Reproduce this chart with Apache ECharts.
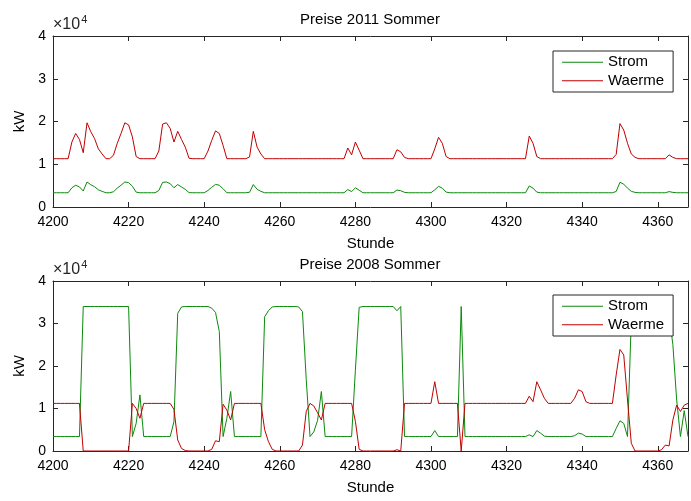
<!DOCTYPE html>
<html>
<head>
<meta charset="utf-8">
<script src="https://cdn.jsdelivr.net/npm/echarts@6/dist/echarts.min.js"></script>
<style>
  html, body { margin: 0; padding: 0; background: #fff; }
  #chart { width: 691px; height: 501px; }
</style>
</head>
<body>
<div id="chart"></div>
<script>
// hours 4200..4368
const startHour = 4200;
const endHour = 4368;
const xTicks = [4200, 4220, 4240, 4260, 4280, 4300, 4320, 4340, 4360];
const yTicks = [0, 1, 2, 3, 4];

// Preise 2011 Sommer (kW)
const strom2011 = [
  3330, 3330, 3330, 3330, 3330, 4500, 5100, 4680, 3750, 5850,
  5220, 4740, 4020, 3660, 3330, 3330, 3570, 4410, 5100, 5850,
  5700, 4860, 3480, 3330, 3330, 3330, 3330, 3330, 3870, 5760,
  5850, 5460, 4500, 5250, 4680, 4140, 3360, 3330, 3330, 3330,
  3330, 3870, 4620, 5280, 5100, 4260, 3330, 3330, 3330, 3330,
  3330, 3330, 3450, 5250, 4140, 3660, 3330, 3330, 3330, 3330,
  3330, 3330, 3330, 3330, 3330, 3330, 3330, 3330, 3330, 3330,
  3330, 3330, 3330, 3330, 3330, 3330, 3330, 3330, 4080, 3600,
  4500, 3930, 3330, 3330, 3330, 3330, 3330, 3330, 3330, 3330,
  3330, 3960, 3810, 3420, 3330, 3330, 3330, 3330, 3330, 3330,
  3330, 4020, 4830, 4410, 3480, 3330, 3330, 3330, 3330, 3330,
  3330, 3330, 3330, 3330, 3330, 3330, 3330, 3330, 3330, 3330,
  3330, 3330, 3330, 3330, 3330, 3330, 4920, 4410, 3480, 3330,
  3330, 3330, 3330, 3330, 3330, 3330, 3330, 3330, 3330, 3330,
  3330, 3330, 3330, 3330, 3330, 3330, 3330, 3330, 3330, 3630,
  5790, 5340, 4410, 3660, 3420, 3330, 3330, 3330, 3330, 3330,
  3330, 3330, 3330, 3600, 3420, 3330, 3330, 3330, 3330
];
const waerme2011 = [
  11300, 11300, 11300, 11300, 11300, 15200, 17200, 15800, 12700, 19700,
  17600, 16000, 13600, 12400, 11300, 11300, 12100, 14900, 17200, 19700,
  19200, 16400, 11800, 11300, 11300, 11300, 11300, 11300, 13100, 19400,
  19700, 18400, 15200, 17700, 15800, 14000, 11400, 11300, 11300, 11300,
  11300, 13100, 15600, 17800, 17200, 14400, 11300, 11300, 11300, 11300,
  11300, 11300, 11700, 17700, 14000, 12400, 11300, 11300, 11300, 11300,
  11300, 11300, 11300, 11300, 11300, 11300, 11300, 11300, 11300, 11300,
  11300, 11300, 11300, 11300, 11300, 11300, 11300, 11300, 13800, 12200,
  15200, 13300, 11300, 11300, 11300, 11300, 11300, 11300, 11300, 11300,
  11300, 13400, 12900, 11600, 11300, 11300, 11300, 11300, 11300, 11300,
  11300, 13600, 16300, 14900, 11800, 11300, 11300, 11300, 11300, 11300,
  11300, 11300, 11300, 11300, 11300, 11300, 11300, 11300, 11300, 11300,
  11300, 11300, 11300, 11300, 11300, 11300, 16600, 14900, 11800, 11300,
  11300, 11300, 11300, 11300, 11300, 11300, 11300, 11300, 11300, 11300,
  11300, 11300, 11300, 11300, 11300, 11300, 11300, 11300, 11300, 12300,
  19500, 18000, 14900, 12400, 11600, 11300, 11300, 11300, 11300, 11300,
  11300, 11300, 11300, 12200, 11600, 11300, 11300, 11300, 11300
];

// Preise 2008 Sommer (kW)
const strom2008 = [
  3400, 3400, 3400, 3400, 3400, 3400, 3400, 3400, 34000, 34000,
  34000, 34000, 34000, 34000, 34000, 34000, 34000, 34000, 34000, 34000,
  34000, 3400, 6500, 13200, 3400, 3400, 3400, 3400, 3400, 3400,
  3400, 3400, 6900, 32400, 33900, 34000, 34000, 34000, 34000, 34000,
  34000, 34000, 33600, 32600, 28100, 3400, 7700, 14000, 3400, 3400,
  3400, 3400, 3400, 3400, 3400, 3400, 31600, 33000, 33900, 34000,
  34000, 34000, 34000, 34000, 34000, 33900, 32800, 16800, 3400, 4500,
  7200, 14000, 3400, 3400, 3400, 3400, 3400, 3400, 3400, 3400,
  19000, 33800, 34000, 34000, 34000, 34000, 34000, 34000, 34000, 34000,
  34000, 33000, 34000, 3400, 3400, 3400, 3400, 3400, 3400, 3400,
  3400, 4800, 3400, 3400, 3400, 3400, 3400, 3400, 34000, 3400,
  3400, 3400, 3400, 3400, 3400, 3400, 3400, 3400, 3400, 3400,
  3400, 3400, 3400, 3400, 3400, 3400, 3800, 3400, 4800, 4200,
  3500, 3400, 3400, 3400, 3400, 3400, 3400, 3400, 3600, 4200,
  4000, 3400, 3400, 3400, 3400, 3400, 3400, 3400, 3400, 5300,
  7100, 6500, 3400, 31000, 34000, 34000, 34000, 34000, 34000, 34000,
  34000, 34000, 34000, 32000, 25000, 12000, 3400, 9500, 3400
];
const waerme2008 = [
  11200, 11200, 11200, 11200, 11200, 11200, 11200, 11200, 0, 0,
  0, 0, 0, 0, 0, 0, 0, 0, 0, 0,
  0, 11200, 10000, 7700, 11200, 11200, 11200, 11200, 11200, 11200,
  11200, 11200, 9800, 2600, 600, 100, 0, 0, 0, 0,
  0, 0, 400, 2400, 2200, 11000, 9600, 7300, 11200, 11200,
  11200, 11200, 11200, 11200, 11200, 11200, 5000, 2200, 400, 0,
  0, 0, 0, 0, 0, 0, 1400, 9300, 11200, 10600,
  9000, 7300, 11200, 11200, 11200, 11200, 11200, 11200, 11200, 11200,
  7000, 400, 0, 0, 0, 0, 0, 0, 0, 0,
  0, 300, 0, 11200, 11200, 11200, 11200, 11200, 11200, 11200,
  11200, 16300, 11200, 11200, 11200, 11200, 11200, 11200, 0, 11200,
  11200, 11200, 11200, 11200, 11200, 11200, 11200, 11200, 11200, 11200,
  11200, 11200, 11200, 11200, 11200, 11200, 12900, 11600, 16300, 14400,
  12400, 11200, 11200, 11200, 11200, 11200, 11200, 11200, 12400, 14400,
  14000, 11600, 11200, 11200, 11200, 11200, 11200, 11200, 11200, 17900,
  23900, 22600, 12000, 1800, 0, 0, 0, 0, 0, 0,
  0, 300, 1400, 1200, 7300, 10800, 9300, 10800, 11200
];

const titles = ['Preise 2011 Sommer', 'Preise 2008 Sommer'];
const FONT = 'Liberation Sans, Arial, Helvetica, sans-serif';
const AXIS_COLOR = '#262626';
const GREEN = '#0b8a0b';
const RED = '#c00000';

const pairs = (vals) => vals.map((v, i) => [startHour + i, v]);

const grids = [
  { left: 53, right: 3, top: 36, height: 171 },
  { left: 53, right: 3, top: 281, height: 170 }
];

const xAxes = [];
const yAxes = [];
grids.forEach((g, gi) => {
  const base = {
    type: 'value', gridIndex: gi, min: startHour, max: endHour, interval: 20,
    axisLine: { onZero: false, lineStyle: { color: AXIS_COLOR, width: 1 } },
    axisTick: { inside: true, length: 5, lineStyle: { color: AXIS_COLOR } },
    splitLine: { show: false }
  };
  xAxes.push(Object.assign({}, base, {
    position: 'bottom',
    name: 'Stunde', nameLocation: 'middle', nameGap: 29,
    nameTextStyle: { color: '#000', fontFamily: FONT, fontSize: 15 },
    axisLabel: {
      color: '#000', fontFamily: FONT, fontSize: 14, margin: 8,
      formatter: (v) => (xTicks.indexOf(v) >= 0 ? String(v) : '')
    }
  }));
  xAxes.push(Object.assign({}, base, { position: 'top', axisLabel: { show: false } }));
  const ybase = {
    type: 'value', gridIndex: gi, min: 0, max: 40000, interval: 10000,
    axisLine: { show: true, lineStyle: { color: AXIS_COLOR, width: 1 } },
    axisTick: { show: true, inside: true, length: 5, lineStyle: { color: AXIS_COLOR } },
    splitLine: { show: false }
  };
  yAxes.push(Object.assign({}, ybase, {
    position: 'left',
    name: 'kW', nameLocation: 'middle', nameGap: 19,
    nameTextStyle: { color: '#000', fontFamily: FONT, fontSize: 15 },
    axisLabel: {
      color: '#000', fontFamily: FONT, fontSize: 14, margin: 7,
      formatter: (v) => String(yTicks[Math.round(v / 10000)])
    }
  }));
  yAxes.push(Object.assign({}, ybase, { position: 'right', axisLabel: { show: false } }));
});

const lineSeries = (name, vals, color, gi) => ({
  name, type: 'line', data: pairs(vals),
  xAxisIndex: gi * 2, yAxisIndex: gi * 2,
  showSymbol: false, symbol: 'none', animation: false,
  lineStyle: { color, width: 1 }, itemStyle: { color },
  emphasis: { disabled: true }
});

const legendFor = (top) => ({
  data: ['Strom', 'Waerme'], orient: 'vertical',
  left: 553, top, icon: 'rect', itemWidth: 41, itemHeight: 1.2, itemGap: 2,
  padding: [3, 9, 3, 9],
  backgroundColor: '#fff', borderColor: '#262626', borderWidth: 1, borderRadius: 0,
  textStyle: { color: '#000', fontFamily: FONT, fontSize: 15, lineHeight: 16.5 },
  selectedMode: false
});

const expRich = {
  a: { fontSize: 16, fontFamily: FONT, fill: '#262626' },
  s: { fontSize: 11, fontFamily: FONT, fill: '#262626', padding: [0, 0, 10, 1] }
};

const chart = echarts.init(document.getElementById('chart'));
chart.setOption({
  backgroundColor: '#fff',
  animation: false,
  grid: grids,
  xAxis: xAxes,
  yAxis: yAxes,
  legend: [legendFor(51), legendFor(295)],
  series: [
    lineSeries('Strom', strom2011, GREEN, 0),
    lineSeries('Waerme', waerme2011, RED, 0),
    lineSeries('Strom', strom2008, GREEN, 1),
    lineSeries('Waerme', waerme2008, RED, 1)
  ],
  graphic: [
    { type: 'text', x: 370, y: 12, style: { text: titles[0], fontSize: 15, fontFamily: FONT, fill: '#000', align: 'center' } },
    { type: 'text', x: 370, y: 257, style: { text: titles[1], fontSize: 15, fontFamily: FONT, fill: '#000', align: 'center' } },
    { type: 'text', x: 53, y: 14, style: { text: '{a|×10}{s|4}', rich: expRich } },
    { type: 'text', x: 53, y: 259, style: { text: '{a|×10}{s|4}', rich: expRich } }
  ]
});
</script>
</body>
</html>
